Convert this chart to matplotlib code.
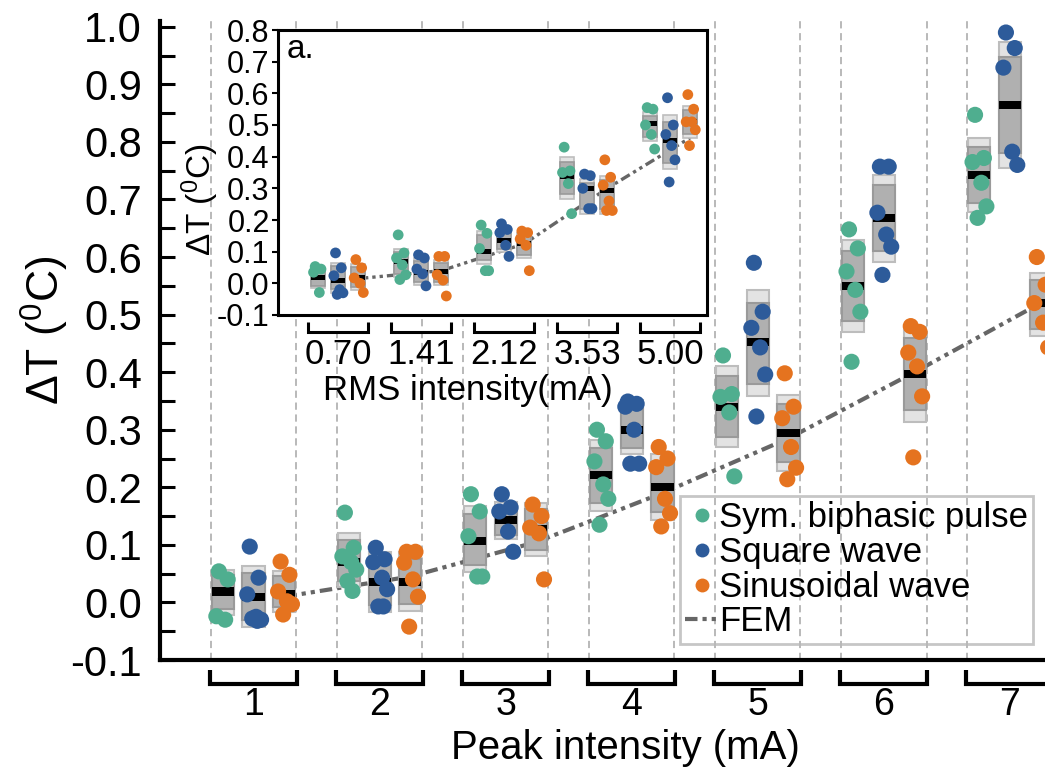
import numpy as np
import matplotlib
matplotlib.use('Agg')
import matplotlib.pyplot as plt
from matplotlib.patches import Rectangle
from matplotlib.lines import Line2D
import matplotlib.transforms as mtransforms

plt.rcParams['font.family'] = ['Liberation Sans', 'DejaVu Sans']
plt.rcParams['mathtext.default'] = 'regular'
plt.rcParams['axes.unicode_minus'] = False

# ---------------- main chart data ----------------
peak_labels = ['1', '2', '3', '4', '5', '6', '7']
series_names = ['Sym. biphasic pulse', 'Square wave', 'Sinusoidal wave']
series_colors = ['#4fae8f', '#2d5b9a', '#e5731f']

sym_points = [
    [0.054, 0.040, -0.024, -0.030],
    [0.156, 0.095, 0.080, 0.070, 0.057, 0.037, 0.020],
    [0.188, 0.158, 0.115, 0.045, 0.045],
    [0.300, 0.280, 0.245, 0.205, 0.180, 0.135],
    [0.429, 0.362, 0.357, 0.330, 0.219],
    [0.648, 0.615, 0.575, 0.543, 0.505, 0.418],
    [0.847, 0.772, 0.765, 0.729, 0.688, 0.668],
]
square_points = [
    [0.097, 0.043, 0.014, -0.025, -0.030, -0.028, -0.032],
    [0.095, 0.075, 0.070, 0.043, 0.023, -0.007, -0.007],
    [0.188, 0.165, 0.158, 0.123, 0.088],
    [0.349, 0.345, 0.340, 0.300, 0.241, 0.241],
    [0.590, 0.505, 0.477, 0.443, 0.396, 0.323],
    [0.757, 0.757, 0.677, 0.639, 0.618, 0.569],
    [0.990, 0.963, 0.929, 0.783, 0.760],
]
sine_points = [
    [0.071, 0.048, 0.019, 0.002, -0.003, -0.021],
    [0.088, 0.088, 0.069, 0.040, 0.010, -0.042],
    [0.170, 0.150, 0.130, 0.120, 0.040],
    [0.270, 0.250, 0.235, 0.180, 0.155, 0.132],
    [0.398, 0.340, 0.320, 0.270, 0.234, 0.214],
    [0.480, 0.470, 0.434, 0.410, 0.358, 0.252],
    [0.600, 0.552, 0.520, 0.486, 0.443],
]
# box summaries: low end, high end, median
sym_box_lo = [-0.021, 0.026, 0.052, 0.158, 0.270, 0.469, 0.679]
sym_box_hi = [0.057, 0.120, 0.167, 0.283, 0.410, 0.630, 0.807]
sym_box_med = [0.019, 0.070, 0.106, 0.222, 0.340, 0.549, 0.743]
square_box_lo = [-0.043, -0.017, 0.110, 0.257, 0.358, 0.592, 0.755]
square_box_hi = [0.063, 0.088, 0.175, 0.352, 0.543, 0.743, 0.974]
square_box_med = [0.009, 0.035, 0.144, 0.300, 0.453, 0.667, 0.864]
sine_box_lo = [-0.017, -0.015, 0.080, 0.144, 0.228, 0.314, 0.462]
sine_box_hi = [0.054, 0.088, 0.173, 0.257, 0.360, 0.479, 0.573]
sine_box_med = [0.014, 0.036, 0.127, 0.200, 0.295, 0.397, 0.520]
fem_main = [0.010, 0.045, 0.105, 0.190, 0.285, 0.400, 0.520]

# ---------------- inset data ----------------
rms_labels = ['0.70', '1.41', '2.12', '3.53', '5.00']
in_sym_points = [
    [0.053, 0.045, 0.035, -0.029],
    [0.153, 0.096, 0.080, 0.058, 0.027, 0.012],
    [0.184, 0.158, 0.110, 0.040, 0.040],
    [0.430, 0.355, 0.350, 0.315, 0.220],
    [0.555, 0.550, 0.500, 0.470, 0.424],
]
in_square_points = [
    [0.096, 0.049, 0.024, -0.020, -0.030, -0.035],
    [0.090, 0.080, 0.045, 0.030, -0.008],
    [0.188, 0.170, 0.160, 0.120, 0.085],
    [0.345, 0.340, 0.300, 0.236, 0.236],
    [0.586, 0.500, 0.470, 0.435, 0.390, 0.320],
]
in_sine_points = [
    [0.075, 0.049, 0.017, 0.000, -0.029],
    [0.085, 0.085, 0.027, 0.010, -0.040],
    [0.165, 0.160, 0.140, 0.120, 0.040],
    [0.390, 0.335, 0.310, 0.260, 0.230, 0.230],
    [0.596, 0.550, 0.510, 0.510, 0.485, 0.435],
]
in_sym_box_lo = [-0.015, 0.020, 0.060, 0.265, 0.450]
in_sym_box_hi = [0.050, 0.110, 0.165, 0.400, 0.540]
in_sym_box_med = [0.018, 0.070, 0.100, 0.336, 0.505]
in_square_box_lo = [-0.030, -0.005, 0.100, 0.220, 0.360]
in_square_box_hi = [0.065, 0.080, 0.170, 0.330, 0.530]
in_square_box_med = [0.008, 0.033, 0.135, 0.300, 0.450]
in_sine_box_lo = [-0.020, -0.005, 0.080, 0.220, 0.460]
in_sine_box_hi = [0.060, 0.075, 0.160, 0.340, 0.560]
in_sine_box_med = [0.018, 0.036, 0.125, 0.294, 0.510]
fem_inset = [0.015, 0.040, 0.125, 0.300, 0.460]

# ---------------- styling helpers ----------------
JITTER = [-0.03, 0.04, -0.05, 0.02, 0.06, -0.01, 0.03]
SERIES_OFFSET = [-0.245, 0.0, 0.245]
FEM_STYLE = (0, (3, 1.2, 1, 1.2, 1, 1.2))


def draw_groups(ax, points_list, lo_list, hi_list, med_list, box_w, med_h,
                msize, box_lw):
    n = len(points_list[0])
    centers = np.arange(1, n + 1)
    for s in range(3):
        pts, lo, hi, med = points_list[s], lo_list[s], hi_list[s], med_list[s]
        for g in range(n):
            c = centers[g] + SERIES_OFFSET[s]
            l, h, m = lo[g], hi[g], med[g]
            ax.add_patch(Rectangle((c - box_w / 2, l), box_w, h - l,
                                   fc='#e3e3e3', ec='#bdbdbd', lw=box_lw,
                                   zorder=3))
            il = l + 0.12 * (h - l)
            ih = h - 0.12 * (h - l)
            ax.add_patch(Rectangle((c - box_w / 2, il), box_w, ih - il,
                                   fc='#b0b0b0', ec='#9a9a9a', lw=box_lw,
                                   zorder=3))
            ax.add_patch(Rectangle((c - box_w / 2, m - med_h / 2), box_w,
                                   med_h, fc='black', ec='none', zorder=4))
            vals = pts[g]
            xs = [c + JITTER[i % len(JITTER)] for i in range(len(vals))]
            ax.scatter(xs, vals, s=msize, color=series_colors[s],
                       edgecolors='none', zorder=6)


def draw_brackets(ax, n, half, ytop, ybot, lw):
    trans = mtransforms.blended_transform_factory(ax.transData, ax.transAxes)
    for g in range(1, n + 1):
        ax.plot([g - half, g - half, g + half, g + half],
                [ytop, ybot, ybot, ytop], color='black', lw=lw,
                transform=trans, clip_on=False, solid_joinstyle='miter',
                solid_capstyle='butt')


W, H = 1045, 768
fig = plt.figure(figsize=(W / 100, H / 100), dpi=100)

# ---------------- main axes ----------------
ax = fig.add_axes([160 / W, 1 - 660 / H, (W - 160) / W, (660 - 21) / H])
ax.set_xlim(0.258, 7.28)
ax.set_ylim(-0.1, 1.01)
for sp in ['top', 'right']:
    ax.spines[sp].set_visible(False)
for sp in ['left', 'bottom']:
    ax.spines[sp].set_linewidth(3)
    ax.spines[sp].set_color('black')

ax.set_yticks(np.round(np.arange(-0.1, 1.001, 0.1), 2))
ax.set_yticklabels(['%.1f' % v for v in np.arange(-0.1, 1.001, 0.1)])
ax.set_yticks(np.round(np.arange(-0.05, 1.0, 0.1), 3), minor=True)
ax.tick_params(axis='y', which='both', direction='in', length=11, width=2.2,
               labelsize=30, pad=13)
ax.set_xticks([])

for g in range(1, 8):
    for d in (-0.34, 0.34):
        ax.axvline(g + d, color='#b3b3b3', lw=1.3, ls=(0, (4, 2.6)), zorder=1)

ax.plot(np.arange(1, 8) + SERIES_OFFSET[2], fem_main, color='#666666', lw=3,
        ls=FEM_STYLE, zorder=2)

draw_groups(ax, [sym_points, square_points, sine_points],
            [sym_box_lo, square_box_lo, sine_box_lo],
            [sym_box_hi, square_box_hi, sine_box_hi],
            [sym_box_med, square_box_med, sine_box_med],
            box_w=0.175, med_h=0.014, msize=135, box_lw=1.5)

draw_brackets(ax, 7, 0.345, -0.0156, -0.0376, 3)
trans_main = mtransforms.blended_transform_factory(ax.transData, ax.transAxes)
for g, lab in enumerate(peak_labels, start=1):
    ax.text(g, (660 - 715) / 639, lab, transform=trans_main, ha='center',
            va='baseline', fontsize=27)

fig.text(625 / W, 1 - 759 / H, 'Peak intensity (mA)', ha='center',
         va='baseline', fontsize=29)
fig.text(45 / W, 1 - 330 / H, r'ΔT ($^{0}$C)', rotation=90, ha='center',
         va='center', fontsize=32)

handles = [Line2D([], [], ls='none', marker='o', ms=10, mfc=c, mec='none')
           for c in series_colors]
handles.append(Line2D([], [], color='#666666', lw=3, ls=FEM_STYLE))
leg = ax.legend(handles, series_names + ['FEM'], loc='upper left',
                bbox_to_anchor=(680 / W, 1 - 496 / H),
                bbox_transform=fig.transFigure, fontsize=25,
                frameon=True, fancybox=False, borderpad=0.15,
                labelspacing=0.05, handlelength=0.95, handletextpad=0.02,
                borderaxespad=0)
leg.get_frame().set_facecolor('none')
leg.get_frame().set_edgecolor('#b8b8b8')
leg.get_frame().set_linewidth(2)
leg.set_zorder(10)

# ---------------- inset axes ----------------
axi = fig.add_axes([278 / W, 1 - 315 / H, 429 / W, 285 / H])
axi.set_facecolor('white')
axi.set_xlim(0.277, 5.446)
axi.set_ylim(-0.1, 0.8)
for sp in axi.spines.values():
    sp.set_linewidth(2.2)
    sp.set_color('black')
axi.set_yticks(np.round(np.arange(-0.1, 0.801, 0.1), 2))
axi.set_yticklabels(['%.1f' % v for v in np.arange(-0.1, 0.801, 0.1)])
axi.tick_params(axis='y', direction='out', length=4, width=1.5,
                labelsize=22, pad=2)
axi.set_xticks([])

axi.plot(np.arange(1, 6) + SERIES_OFFSET[2], fem_inset, color='#666666',
         lw=2.4, ls=FEM_STYLE, zorder=2)
draw_groups(axi, [in_sym_points, in_square_points, in_sine_points],
            [in_sym_box_lo, in_square_box_lo, in_sine_box_lo],
            [in_sym_box_hi, in_square_box_hi, in_sine_box_hi],
            [in_sym_box_med, in_square_box_med, in_sine_box_med],
            box_w=0.17, med_h=0.016, msize=60, box_lw=1.2)

draw_brackets(axi, 5, 0.36, -0.0246, -0.0596, 2.2)
trans_in = mtransforms.blended_transform_factory(axi.transData, axi.transAxes)
for g, lab in enumerate(rms_labels, start=1):
    axi.text(g, -0.172, lab, transform=trans_in, ha='center', va='baseline',
             fontsize=25)
axi.text(0.021, 0.902, 'a.', transform=axi.transAxes, ha='left',
         va='baseline', fontsize=24)
fig.text(468 / W, 1 - 400 / H, 'RMS intensity(mA)', ha='center',
         va='baseline', fontsize=25)
fig.text(200 / W, 1 - 200 / H, r'ΔT ($^{0}$C)', rotation=90, ha='center',
         va='center', fontsize=24)

fig.savefig('out.png', dpi=100)
